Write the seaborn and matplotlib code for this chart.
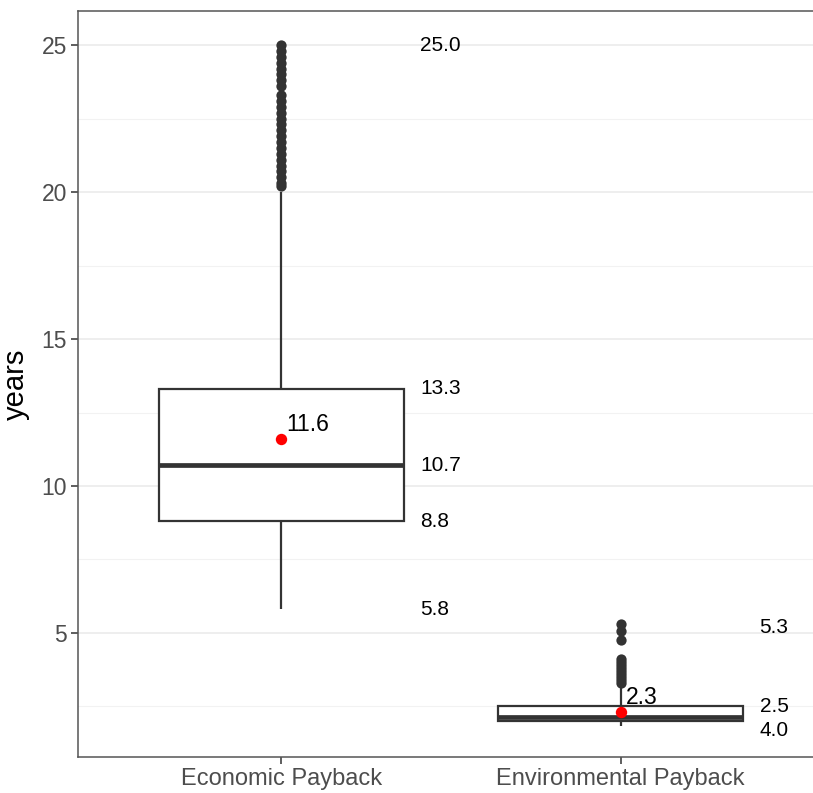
import matplotlib
matplotlib.use("Agg")
import matplotlib.pyplot as plt
import seaborn as sns
import pandas as pd
import numpy as np

# ---- data ----
categories = ["Economic Payback", "Environmental Payback"]
whisker_low = [5.8, 1.85]
q1 = [8.8, 2.0]
median = [10.7, 2.14]
q3 = [13.3, 2.5]
whisker_high = [20.0, 3.2]
means = [11.6, 2.31]
mean_labels = ["11.6", "2.3"]

outliers_econ = [25.0, 24.8, 24.6, 24.4, 24.2, 24.0, 23.8, 23.6,
                 23.3, 23.1, 22.9, 22.7, 22.5, 22.3, 22.1, 21.9,
                 21.7, 21.5, 21.3, 21.1, 20.9, 20.7, 20.5, 20.3, 20.2]
outliers_env = [5.3, 5.05, 4.75, 4.1, 4.0, 3.9, 3.8, 3.7, 3.6, 3.5, 3.4, 3.3]

econ_side_labels = ["25.0", "13.3", "10.7", "8.8", "5.8"]
econ_side_label_y = [25.0, 13.3, 10.7, 8.8, 5.8]
env_side_labels = ["5.3", "2.5", "4.0"]
env_side_label_y = [5.17, 2.5, 1.67]

# ---- build long-form tables ----
box_rows = []
for i, c in enumerate(categories):
    for v in (whisker_low[i], q1[i], median[i], q3[i], whisker_high[i]):
        box_rows.append((c, v))
box_df = pd.DataFrame(box_rows, columns=["group", "years"])

out_df = pd.DataFrame(
    [(categories[0], v) for v in outliers_econ] +
    [(categories[1], v) for v in outliers_env],
    columns=["group", "years"])
mean_df = pd.DataFrame({"group": categories, "years": means})

sns.set_theme(style="white")
plt.rcParams["font.family"] = ["Liberation Sans", "DejaVu Sans"]

fig = plt.figure(figsize=(8.13, 7.93), dpi=100)
ax = fig.add_axes([78 / 813, 1 - 757 / 793, (824 - 78) / 813, (757 - 11) / 793])

dark = "#333333"
sns.boxplot(data=box_df, x="group", y="years", order=categories,
            width=0.72, showcaps=False, whis=1.5, showfliers=False,
            color="white", saturation=1, linecolor=dark, linewidth=1.6,
            medianprops=dict(linewidth=3.4, color=dark),
            ax=ax, zorder=3)
sns.stripplot(data=out_df, x="group", y="years", order=categories,
              jitter=False, color=dark, size=7.4, linewidth=0, ax=ax, zorder=4)
sns.stripplot(data=mean_df, x="group", y="years", order=categories,
              jitter=False, color="#FF0000", size=8.2, linewidth=0, ax=ax, zorder=5)

# annotations
for t, y in zip(econ_side_labels, econ_side_label_y):
    ax.text(0 + 0.41, y, t, ha="left", va="center", fontsize=15, color="black", zorder=6)
for t, y in zip(env_side_labels, env_side_label_y):
    ax.text(1 + 0.41, y, t, ha="left", va="center", fontsize=15, color="black", zorder=6)
for i, (t, m) in enumerate(zip(mean_labels, means)):
    ax.text(i + 0.015, m + 0.5, t, ha="left", va="center", fontsize=16.5,
            color="black", zorder=6)

ax.set_xlim(-0.6, 1.6)
ax.set_ylim(0.78, 26.16)
ax.set_yticks([5, 10, 15, 20, 25])
ax.set_yticks([2.5, 7.5, 12.5, 17.5, 22.5], minor=True)
ax.yaxis.grid(True, which="major", color="#EBEBEB", linewidth=1.2, zorder=0)
ax.yaxis.grid(True, which="minor", color="#F2F2F2", linewidth=0.8, zorder=0)
ax.xaxis.grid(False)
ax.set_axisbelow(True)

ax.set_xlabel("")
ax.set_ylabel("years", fontsize=21, color="black", labelpad=8)
ax.tick_params(axis="both", which="major", direction="out", length=5, width=1.1,
               color=dark, labelcolor="#4D4D4D", labelsize=16.5, pad=3)
ax.tick_params(axis="x", labelsize=17, bottom=True)
ax.tick_params(axis="y", left=True)
ax.tick_params(axis="y", which="minor", length=0)
for s in ax.spines.values():
    s.set_color("#555555")
    s.set_linewidth(1.1)

fig.savefig("out.png", dpi=100)
